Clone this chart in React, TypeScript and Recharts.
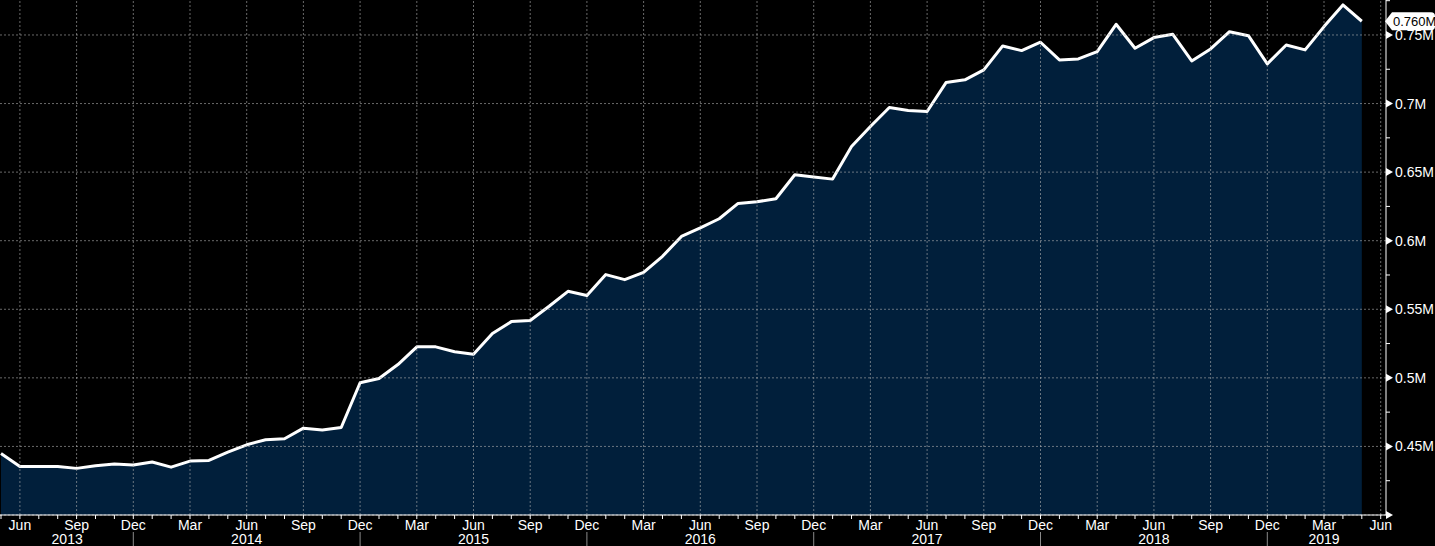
import React from "react";
import { AreaChart, Area, XAxis, YAxis, ReferenceLine } from "recharts";

// Monthly values (millions), May 2013 .. May 2019
const values: number[] = [
  0.4449, 0.4354, 0.4354, 0.4354, 0.434, 0.4359, 0.4371, 0.4364,
  0.4386, 0.4349, 0.4393, 0.4398, 0.4458, 0.4512, 0.4549, 0.4556, 0.4633, 0.4619, 0.4638, 0.4964,
  0.4995, 0.5097, 0.5226, 0.5226, 0.519, 0.5172, 0.5323, 0.541, 0.5418, 0.5522, 0.5631, 0.56,
  0.5753, 0.5716, 0.5769, 0.5886, 0.6031, 0.6093, 0.616, 0.6272, 0.6284, 0.6306, 0.6481, 0.6464,
  0.6449, 0.6687, 0.6832, 0.6971, 0.6949, 0.6942, 0.7153, 0.7173, 0.7245, 0.742, 0.7386, 0.7447,
  0.7318, 0.7325, 0.7379, 0.7578, 0.7403, 0.7481, 0.7505, 0.7311, 0.7398, 0.7524, 0.7495, 0.7289,
  0.7427, 0.7391, 0.7561, 0.7719, 0.760,
];

const monthNames = ["Jan", "Feb", "Mar", "Apr", "May", "Jun", "Jul", "Aug", "Sep", "Oct", "Nov", "Dec"];
const startMonth = 4; // May
const monthTicks: number[] = Array.from({ length: 74 }, (_, i) => i);
const quarterTicks: number[] = monthTicks.filter((i) => (startMonth + i) % 3 === 2);

const yearLabels = ["2013", "2014", "2015", "2016", "2017", "2018", "2019"];
const yearLabelPos = [3.5, 13, 25, 37, 49, 61, 70];

const yMajor = [0.4, 0.45, 0.5, 0.55, 0.6, 0.65, 0.7, 0.75];
const yTicks = [0.4, 0.425, 0.45, 0.475, 0.5, 0.525, 0.55, 0.575, 0.6, 0.625, 0.65, 0.675, 0.7, 0.725, 0.75, 0.775];

const data = values.map((v, i) => ({ i, v }));
const lastValue = values[values.length - 1];

const FONT = "'Liberation Sans Narrow','Liberation Sans',Arial,sans-serif";
const GRID = "rgba(175,175,175,0.6)";

const MonthTick = (props: any) => {
  const { x, y, payload } = props;
  const m = (startMonth + payload.value) % 12;
  const isQ = m % 3 === 2;
  return (
    <g>
      <line x1={x} x2={x} y1={y} y2={y + 4} stroke="#ffffff" strokeWidth={1} />
      {isQ && (
        <text x={x} y={y + 15} textAnchor="middle" fill="#ffffff" fontSize={14} fontFamily={FONT}>
          {monthNames[m]}
        </text>
      )}
      {m === 11 && <line x1={x} x2={x} y1={y + 17} y2={y + 31} stroke="#8a8a8a" strokeWidth={1} />}
    </g>
  );
};

const YearTick = (props: any) => {
  const { x, y, index } = props;
  return (
    <text x={x} y={y + 13} textAnchor="middle" fill="#ffffff" fontSize={14} fontFamily={FONT}>
      {yearLabels[index]}
    </text>
  );
};

const ValueTick = (props: any) => {
  const { x, y, payload } = props;
  const v = payload.value;
  const major = yMajor.some((m) => Math.abs(m - v) < 1e-6);
  if (!major) {
    return <line x1={x} x2={x + 4} y1={y} y2={y} stroke="#ffffff" strokeWidth={1} />;
  }
  const showLabel = v > 0.41;
  return (
    <g>
      <polygon points={`${x},${y - 4} ${x},${y + 4} ${x + 7},${y}`} fill="#ffffff" />
      {showLabel && (
        <text x={x + 9} y={y} dy="0.36em" fill="#ffffff" fontSize={14} fontFamily={FONT}>
          {`${v}M`}
        </text>
      )}
    </g>
  );
};

const LastTag = (props: any) => {
  const vb = props.viewBox || {};
  const X = vb.x + vb.width - 1;
  const y = vb.y;
  const h = 9;
  const right = 1435;
  const path = `M ${X} ${y} L ${X + 7} ${y - h} L ${right - 4} ${y - h} Q ${right} ${y - h} ${right} ${y - h + 4} L ${right} ${y + h - 4} Q ${right} ${y + h} ${right - 4} ${y + h} L ${X + 7} ${y + h} Z`;
  return (
    <g>
      <path d={path} fill="#ffffff" />
      <text x={X + 8} y={y} dy="0.36em" fill="#000000" fontSize={13} fontFamily={FONT}>
        {`${lastValue.toFixed(3)}M`}
      </text>
    </g>
  );
};

export default function App() {
  return (
    <div style={{ position: "absolute", left: 0, top: 0, width: 1435, height: 546, background: "#000000", overflow: "hidden" }}>
      <AreaChart width={1435} height={546} data={data} margin={{ top: 0, right: 0, bottom: 0, left: 0 }}>
        <XAxis
          dataKey="i"
          type="number"
          domain={[-0.053, 73.28]}
          allowDataOverflow
          ticks={monthTicks}
          interval={0}
          height={16}
          axisLine={{ stroke: "#ffffff", strokeWidth: 1 }}
          tickLine={false}
          tickSize={0}
          tickMargin={0}
          tick={<MonthTick />}
        />
        <XAxis
          xAxisId="yr"
          dataKey="i"
          type="number"
          domain={[-0.053, 73.28]}
          allowDataOverflow
          ticks={yearLabelPos}
          interval={0}
          height={15}
          axisLine={false}
          tickLine={false}
          tickSize={0}
          tickMargin={0}
          tick={<YearTick />}
        />
        <YAxis
          orientation="right"
          type="number"
          domain={[0.4, 0.7755]}
          allowDataOverflow
          ticks={yTicks}
          interval={0}
          width={49}
          axisLine={{ stroke: "#ffffff", strokeWidth: 1 }}
          tickLine={false}
          tickSize={0}
          tickMargin={0}
          tick={<ValueTick />}
        />
        <Area
          type="linear"
          dataKey="v"
          stroke="#ffffff"
          strokeWidth={3}
          strokeLinejoin="round"
          fill="#011f3b"
          fillOpacity={1}
          baseValue={0.4}
          isAnimationActive={false}
          dot={false}
          activeDot={false}
        />
        {yMajor.map((v) => (
          <ReferenceLine key={`h${v}`} y={v} stroke={GRID} strokeDasharray="2 2" ifOverflow="extendDomain" />
        ))}
        {quarterTicks.map((t) => (
          <ReferenceLine key={`v${t}`} x={t} stroke={GRID} strokeDasharray="2 2" />
        ))}
        <ReferenceLine y={lastValue} stroke="none" ifOverflow="visible" label={(p: any) => <LastTag {...p} />} />
      </AreaChart>
    </div>
  );
}
